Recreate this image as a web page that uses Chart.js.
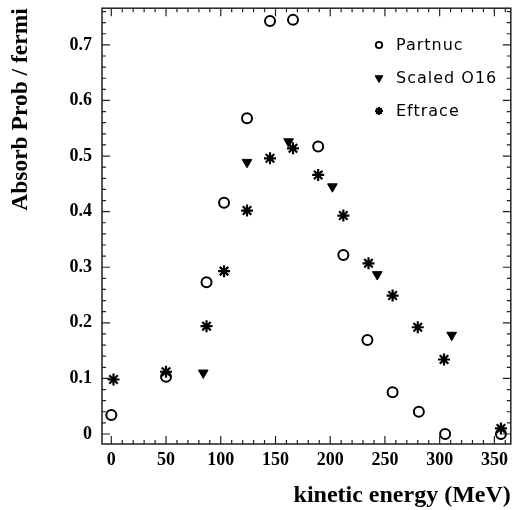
<!DOCTYPE html>
<html>
<head>
<meta charset="utf-8">
<script src="https://cdn.jsdelivr.net/npm/chart.js@4/dist/chart.umd.min.js"></script>
<style>
  html, body { margin: 0; padding: 0; background: #fff; overflow: hidden; }
  #wrap { width: 512px; height: 510px; position: relative; }
</style>
</head>
<body>
<div id="wrap"><canvas id="absorb"></canvas></div>
<script>
// kinetic energy (MeV) and absorption probability per fermi
const partnucE = [0, 50, 87, 103, 124, 145, 166, 189, 212, 234, 257, 281, 305, 356];
const partnucP = [0.034, 0.103, 0.273, 0.416, 0.568, 0.743, 0.745, 0.517, 0.322, 0.169, 0.075, 0.040, 0.0, 0.0];

const scaledE = [84, 124, 162, 202, 243, 311];
const scaledP = [0.110, 0.489, 0.526, 0.445, 0.287, 0.178];

const eftraceE = [2, 50, 87, 103, 124, 145, 166, 189, 212, 235, 257, 280, 304, 356];
const eftraceP = [0.098, 0.112, 0.194, 0.293, 0.402, 0.496, 0.514, 0.466, 0.393, 0.307, 0.249, 0.192, 0.134, 0.010];

const xTicks = [0, 50, 100, 150, 200, 250, 300, 350];
const yTicks = [0, 0.1, 0.2, 0.3, 0.4, 0.5, 0.6, 0.7];

const pts = (xs, ys) => xs.map((x, i) => ({x: x, y: ys[i]}));

const legendItems = [
  {text: 'Partnuc', style: 'circle', radius: 3.2, rotation: 0, fill: '#fff', bw: 1.8},
  {text: 'Scaled O16', style: 'triangle', radius: 4.5, rotation: 180, fill: '#000', bw: 1},
  {text: 'Eftrace', style: 'star', radius: 4, rotation: 0, fill: '#000', bw: 2}
];

// frame with inside ticks on all four sides, plus the in-plot legend
const frameTicks = {
  id: 'frameTicks',
  afterDraw(chart) {
    const ctx = chart.ctx;
    const a = chart.chartArea;
    const xs = chart.scales.x, ys = chart.scales.y;
    ctx.save();
    ctx.strokeStyle = '#222';
    ctx.lineWidth = 1.5;
    ctx.strokeRect(a.left, a.top, a.right - a.left, a.bottom - a.top);
    ctx.lineWidth = 1.2;
    ctx.beginPath();
    for (let v = 0; v <= 360; v += 10) {
      const px = xs.getPixelForValue(v);
      const len = v % 50 === 0 ? 8 : 4;
      ctx.moveTo(px, a.bottom); ctx.lineTo(px, a.bottom - len);
      ctx.moveTo(px, a.top); ctx.lineTo(px, a.top + len);
    }
    for (let k = 0; k <= 38; k++) {
      const v = k * 0.02;
      const py = ys.getPixelForValue(v);
      const len = k % 5 === 0 ? 8 : 4;
      ctx.moveTo(a.left, py); ctx.lineTo(a.left + len, py);
      ctx.moveTo(a.right, py); ctx.lineTo(a.right - len, py);
    }
    ctx.stroke();

    // legend
    const lx = 379, tx = 396, ly = [45, 78, 111];
    ctx.font = '16px "DejaVu Sans"';
    ctx.letterSpacing = '1px';
    ctx.fillStyle = '#000';
    ctx.textBaseline = 'middle';
    ctx.textAlign = 'left';
    legendItems.forEach((it, i) => {
      ctx.save();
      ctx.strokeStyle = '#000';
      ctx.fillStyle = it.fill;
      ctx.lineWidth = it.bw;
      Chart.helpers.drawPoint(ctx, {pointStyle: it.style, radius: it.radius, rotation: it.rotation, borderWidth: it.bw}, lx, ly[i]);
      ctx.restore();
      ctx.fillText(it.text, tx, ly[i] + 1);
    });
    ctx.restore();
  }
};

const serifBold = {family: '"Liberation Serif", "Times New Roman", serif', weight: 'bold'};

const chart = new Chart(document.getElementById('absorb'), {
  type: 'scatter',
  data: {
    datasets: [
      {
        label: 'Partnuc',
        data: pts(partnucE, partnucP),
        pointStyle: 'circle',
        pointRadius: 5,
        pointBorderWidth: 2,
        borderColor: '#000',
        backgroundColor: '#fff',
        order: 2
      },
      {
        label: 'Scaled O16',
        data: pts(scaledE, scaledP),
        pointStyle: 'triangle',
        pointRotation: 180,
        pointRadius: 5.6,
        pointBorderWidth: 1,
        borderColor: '#000',
        backgroundColor: '#000',
        order: 1
      },
      {
        label: 'Eftrace',
        data: pts(eftraceE, eftraceP),
        pointStyle: 'star',
        pointRadius: 6,
        pointBorderWidth: 2.2,
        borderColor: '#000',
        backgroundColor: '#000',
        order: 0
      }
    ]
  },
  options: {
    responsive: true,
    maintainAspectRatio: false,
    animation: false,
    layout: {padding: {top: 8, right: 1, left: 0, bottom: 0}},
    plugins: {
      legend: {display: false},
      tooltip: {enabled: false}
    },
    scales: {
      x: {
        type: 'linear',
        min: -8.5,
        max: 365,
        grid: {display: false, drawTicks: false},
        border: {display: false},
        afterBuildTicks: s => { s.ticks = xTicks.map(v => ({value: v})); },
        afterFit: s => { s.height = 66; s.paddingLeft = 0; s.paddingRight = 0; },
        ticks: {
          color: '#000',
          padding: 6,
          maxRotation: 0,
          autoSkip: false,
          font: Object.assign({size: 18}, serifBold),
          callback: v => String(v)
        },
        title: {
          display: true,
          text: 'kinetic energy (MeV)',
          align: 'end',
          color: '#000',
          padding: {top: 0, bottom: 0},
          font: Object.assign({size: 24}, serifBold)
        }
      },
      y: {
        type: 'linear',
        min: -0.018,
        max: 0.766,
        grid: {display: false, drawTicks: false},
        border: {display: false},
        afterBuildTicks: s => { s.ticks = yTicks.map(v => ({value: v})); },
        afterFit: s => { s.width = 102; s.paddingTop = 0; s.paddingBottom = 0; },
        ticks: {
          color: '#000',
          padding: 10,
          autoSkip: false,
          font: Object.assign({size: 18}, serifBold),
          callback: v => v === 0 ? '0' : v.toFixed(1)
        },
        title: {
          display: true,
          text: 'Absorb Prob / fermi',
          align: 'end',
          color: '#000',
          padding: {top: 7, bottom: 0},
          font: Object.assign({size: 23.5}, serifBold)
        }
      }
    }
  },
  plugins: [frameTicks]
});

// the plot frame should reach x = 511; the layout keeps a few px on the right,
// so widen the canvas past the window edge by that much
const wrap = document.getElementById('wrap');
for (let i = 0; i < 2; i++) {
  const gap = Math.round(511 - chart.chartArea.right);
  if (gap === 0) break;
  wrap.style.width = (parseFloat(wrap.style.width || 512) + gap) + 'px';
  chart.resize();
}
</script>
</body>
</html>
